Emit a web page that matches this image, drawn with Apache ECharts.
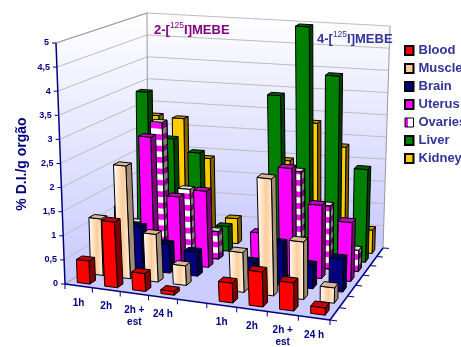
<!DOCTYPE html>
<html>
<head>
<meta charset="utf-8">
<style>html,body{margin:0;padding:0;background:#fff}#c{width:461px;height:347px}</style>
<script src="https://cdn.jsdelivr.net/npm/echarts@6/dist/echarts.min.js"></script>
</head>
<body>
<div id="c"></div>
<script>
// Biodistribution values, % D.I./g per organ and time point; index 4 is the gap between the two compounds.
const categories = ['1h', '2h', '2h +\nest', '24 h', '', '1h', '2h', '2h +\nest', '24 h'];
const organs = ['Blood', 'Muscle', 'Brain', 'Uterus', 'Ovaries', 'Liver', 'Kidney'];
const blood   = [0.48, 1.36, 0.37, 0.08, null, 0.41, 0.72, 0.58, 0.15];
const muscle  = [1.19, 2.37, 1.0, 0.41, null, 0.83, 2.44, 1.2, 0.32];
const brain   = [0.85, 0.92, 0.61, 0.51, null, 0.43, 0.89, 0.49, 0.69];
const uterus  = [1.13, 2.7, 1.46, 1.64, null, 0.85, 2.3, 1.57, 1.26];
const ovaries = [0.65, 2.89, 1.47, 0.6, null, 0.4, 2.06, 1.37, 0.46];
const liver   = [3.4, 2.4, 2.13, 0.54, null, 3.53, 5.09, 4.05, 2.04];
const kidney  = [2.76, 2.73, 1.87, 0.56, null, 1.94, 2.82, 2.33, 0.52];
const yTicks = [0, 0.5, 1, 1.5, 2, 2.5, 3, 3.5, 4, 4.5, 5];
const yTickLabels = ['0', '0,5', '1', '1,5', '2', '2,5', '3', '3,5', '4', '4,5', '5'];
const yMax = 5;

const organValues = [blood, muscle, brain, uterus, ovaries, liver, kidney];
const organStyles = [
  { front: '#ff0000', side: '#800000', top: '#c80000', edge: '#000' },
  { front: { type: 'linear', x: 0, y: 0, x2: 1, y2: 0, colorStops: [{ offset: 0, color: '#fff' }, { offset: 0.55, color: '#ffcc99' }, { offset: 1, color: '#fff4e8' }] },
    side: '#a08c74', top: '#d8b898', edge: '#000' },
  { front: '#000080', side: '#000040', top: '#000060', edge: '#000' },
  { front: '#ff00ff', side: '#800080', top: '#c000c0', edge: '#000' },
  { front: '#ff00ff', side: '#800080', top: '#d8d8d8', edge: '#000', stripes: ['#ffffff', '#808080'] },
  { front: '#008000', side: '#004000', top: '#006000', edge: '#000' },
  { front: '#ffcc00', side: '#806000', top: '#c09000', edge: '#000' }
];

// Floor and ceiling outlines of the box: front-left, front-right, back-right, back-left.
const floorQuad = [[65, 284], [330, 320], [383, 248], [148, 232]];
const ceilQuad = [[56, 43], [335, 76], [390, 26], [147, 13]];
// Evens out the spacing of the categories along the floor.
const CAT_WARP = 0.2075;

function squareToQuad(q) {
  const [p0, p1, p2, p3] = q;
  const dx1 = p1[0] - p2[0], dx2 = p3[0] - p2[0], sx = p0[0] - p1[0] + p2[0] - p3[0];
  const dy1 = p1[1] - p2[1], dy2 = p3[1] - p2[1], sy = p0[1] - p1[1] + p2[1] - p3[1];
  const den = dx1 * dy2 - dx2 * dy1;
  const g = (sx * dy2 - dx2 * sy) / den, h = (dx1 * sy - sx * dy1) / den;
  const a = p1[0] - p0[0] + g * p1[0], b = p3[0] - p0[0] + h * p3[0];
  const d = p1[1] - p0[1] + g * p1[1], e = p3[1] - p0[1] + h * p3[1];
  return (u, v) => {
    const w = g * u + h * v + 1;
    return [(a * u + b * v + p0[0]) / w, (d * u + e * v + p0[1]) / w];
  };
}
const floorMap = squareToQuad(floorQuad);
const ceilMap = squareToQuad(ceilQuad);

// 3D position (category position, organ depth, value) to plot coordinates.
function project(cat, depth, value) {
  const s = cat / categories.length;
  const u = (1 + CAT_WARP) * s / (1 + CAT_WARP * s), v = depth / organs.length;
  const f = floorMap(u, v), c = ceilMap(u, v), t = value / yMax;
  return [f[0] + (c[0] - f[0]) * t, f[1] + (c[1] - f[1]) * t];
}

const BAR_X0 = 0.3, BAR_X1 = 0.76, BAR_Z0 = 0.3, BAR_Z1 = 0.72, BAND = 0.125;

function renderBar(organ) {
  const st = organStyles[organ];
  return function (params, api) {
    const cat = api.value(0), value = api.value(1);
    const at = (x, z, y) => api.coord(project(x, z, y));
    const x0 = cat + BAR_X0, x1 = cat + BAR_X1, z0 = organ + BAR_Z0, z1 = organ + BAR_Z1;
    const poly = (pts, fill, stroke) => ({ type: 'polygon', shape: { points: pts },
      style: { fill: fill, stroke: stroke ? st.edge : null, lineWidth: 1 } });
    const front = [at(x0, z0, 0), at(x1, z0, 0), at(x1, z0, value), at(x0, z0, value)];
    const side = [at(x1, z0, 0), at(x1, z1, 0), at(x1, z1, value), at(x1, z0, value)];
    const top = [at(x0, z0, value), at(x1, z0, value), at(x1, z1, value), at(x0, z1, value)];
    const children = [poly(side, st.side, true), poly(front, st.front, true), poly(top, st.top, true)];
    if (st.stripes) {
      // Patterned organ: alternating bands over the plain faces, outlines redrawn on top.
      for (let k = 1, y = BAND; y < value; y += BAND, k++) {
        if (k % 2 === 0) continue;
        const y2 = Math.min(y + BAND, value);
        children.push(poly([at(x0, z0, y), at(x1, z0, y), at(x1, z0, y2), at(x0, z0, y2)], st.stripes[0], false));
        children.push(poly([at(x1, z0, y), at(x1, z1, y), at(x1, z1, y2), at(x1, z0, y2)], st.stripes[1], false));
      }
      children.push(poly(front, 'none', true), poly(side, 'none', true));
    }
    return { type: 'group', children: children };
  };
}

function renderFrame(params, api) {
  const nC = categories.length, nO = organs.length;
  const at = (x, z, y) => api.coord(project(x, z, y));
  const wall = { type: 'linear', x: 0, y: 0, x2: 0, y2: 1, colorStops: [{ offset: 0, color: '#ffffff' }, { offset: 1, color: '#c8c8ff' }] };
  const kids = [];
  const poly = (pts, fill) => ({ type: 'polygon', shape: { points: pts }, style: { fill: fill, stroke: null } });
  const line = (a, b, color, w) => ({ type: 'line', shape: { x1: a[0], y1: a[1], x2: b[0], y2: b[1] }, style: { stroke: color, lineWidth: w } });
  kids.push(poly([at(0, 0, 0), at(0, nO, 0), at(0, nO, yMax), at(0, 0, yMax)], wall));
  kids.push(poly([at(0, nO, 0), at(nC, nO, 0), at(nC, nO, yMax), at(0, nO, yMax)], wall));
  kids.push(poly([at(0, 0, 0), at(nC, 0, 0), at(nC, nO, 0), at(0, nO, 0)], '#ccccff'));
  yTicks.forEach(t => {
    if (t > 0) {
      kids.push(line(at(0, 0, t), at(0, nO, t), '#bdbdbd', 1));
      kids.push(line(at(0, nO, t), at(nC, nO, t), '#bdbdbd', 1));
    }
  });
  kids.push(line(at(0, nO, 0), at(0, nO, yMax), '#9a9a9a', 1));
  kids.push(line(at(nC, nO, 0), at(nC, nO, yMax), '#9a9a9a', 1));
  kids.push(line(at(0, 0, yMax), at(0, nO, yMax), '#9a9a9a', 1));
  kids.push(line(at(0, nO, 0), at(0, 0, 0), '#9a9a9a', 1));
  const navy = '#000080';
  // Value axis, with its ticks and labels.
  kids.push(line(at(0, 0, 0), at(0, 0, yMax), navy, 1.5));
  yTicks.forEach((t, i) => {
    const p = at(0, 0, t);
    kids.push(line(p, [p[0] - 4, p[1]], navy, 1));
    kids.push({ type: 'text', x: p[0] - 7, y: p[1], style: { text: yTickLabels[i], fill: navy,
      font: 'bold 9px "Liberation Sans"', align: 'right', verticalAlign: 'middle' } });
  });
  // Category axis along the front edge of the floor.
  kids.push(line(at(0, 0, 0), at(nC, 0, 0), navy, 1.5));
  for (let i = 0; i <= nC; i++) {
    const p = at(i, 0, 0);
    kids.push(line(p, [p[0], p[1] + 5], navy, 1));
  }
  categories.forEach((c, i) => {
    const p = at(i + 0.5, 0, 0);
    kids.push({ type: 'text', x: p[0], y: p[1] + 11, style: { text: c, fill: navy,
      font: 'bold 10px "Liberation Sans"', align: 'center', verticalAlign: 'top', lineHeight: 12 } });
  });
  // Depth axis along the right edge of the floor.
  kids.push(line(at(nC, 0, 0), at(nC, nO, 0), navy, 1.5));
  for (let j = 0; j <= nO; j++) {
    kids.push(line(at(nC, j, 0), at(nC + 0.22, j, 0), navy, 1));
  }
  return { type: 'group', children: kids };
}

const barSeries = organs.map((name, j) => ({
  type: 'custom',
  name: name,
  coordinateSystem: 'cartesian2d',
  z: 20 - j,
  clip: false,
  silent: true,
  itemStyle: { color: typeof organStyles[j].front === 'string' ? organStyles[j].front : '#ffcc99', borderColor: '#000', borderWidth: 1 },
  renderItem: renderBar(j),
  encode: { x: -1, y: -1 },
  data: organValues[j].map((v, i) => [i, v]).filter(d => d[1] !== null)
}));

const legendData = organs.map((name, j) => {
  const item = { name: name, icon: 'rect' };
  if (name === 'Ovaries') {
    item.itemStyle = { color: { type: 'linear', x: 0, y: 0, x2: 1, y2: 0, colorStops: [
      { offset: 0, color: '#ff00ff' }, { offset: 0.35, color: '#ff00ff' }, { offset: 0.35, color: '#ffffff' }, { offset: 1, color: '#ffffff' }] },
      borderColor: '#000', borderWidth: 1 };
  }
  return item;
});

function compoundTitle(prefix, suffix, x, y, color) {
  return { type: 'text', x: x, y: y, z: 100, style: {
    text: '{m|' + prefix + '}{s|125}{m|' + suffix + '}',
    rich: {
      m: { font: 'bold 13px "Liberation Sans"', fill: color, color: color, verticalAlign: 'middle', lineHeight: 18 },
      s: { font: '8.5px "Liberation Sans"', fill: color, color: color, verticalAlign: 'top', lineHeight: 18 }
    } } };
}

const chart = echarts.init(document.getElementById('c'), null, { renderer: 'canvas', width: 461, height: 347 });
chart.setOption({
  animation: false,
  backgroundColor: '#ffffff',
  grid: { left: 0, top: 0, width: 461, height: 347 },
  xAxis: { type: 'value', min: 0, max: 461, show: false },
  yAxis: { type: 'value', min: 0, max: 347, inverse: true, show: false },
  legend: {
    orient: 'vertical', left: 404, top: 44, itemWidth: 8.5, itemHeight: 9, itemGap: 5, selectedMode: false,
    padding: 0, textStyle: { fontFamily: 'Liberation Sans', fontWeight: 'bold', fontSize: 13, color: '#333399' },
    data: legendData
  },
  graphic: { elements: [
    compoundTitle('2-[', 'I]MEBE', 154, 21, '#800080'),
    compoundTitle('4-[', 'I]MEBE', 317, 30, '#333399'),
    { type: 'text', x: 22, y: 164, rotation: Math.PI / 2, z: 100, style: {
      text: '% D.I./g orgão', font: 'bold 14px "Liberation Sans"', fill: '#000080', align: 'center', verticalAlign: 'middle' } }
  ] },
  series: [{
    type: 'custom', name: 'frame', coordinateSystem: 'cartesian2d', z: 1, clip: false, silent: true,
    renderItem: renderFrame, encode: { x: -1, y: -1 }, data: [[0, 0]]
  }].concat(barSeries)
});
</script>
</body>
</html>
